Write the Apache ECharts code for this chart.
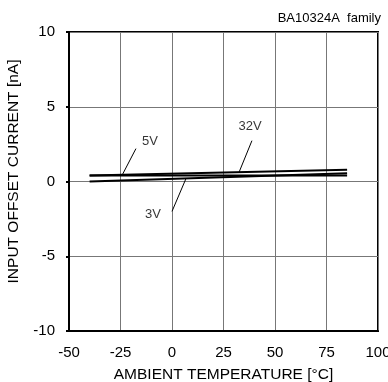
<!DOCTYPE html>
<html>
<head>
<meta charset="utf-8">
<script src="https://cdn.jsdelivr.net/npm/echarts@6/dist/echarts.min.js"></script>
<style>
  body { margin:0; background:#fff; }
  #chart { width:388px; height:382px; }
</style>
</head>
<body>
<div id="chart"></div>
<script>
// temperature points (°C)
let temps = [-40, 85]
// input offset current (nA) per supply voltage
let cur3V = [0, 0.55]
let cur5V = [0.4, 0.4]
let cur32V = [0.4, 0.78]

// annotation labels and pointer lines, data units
let noteText = ['5V', '32V', '3V']
let notePos = [[-10.7, 2.67], [37.9, 3.67], [-9.2, -2.2]]
let notePointers = [
  [[-17.5, 2.2], [-24.3, 0.4]],
  [[38.8, 2.73], [32.5, 0.6]],
  [[0, -2.0], [6.8, 0.2]]
]

function curve(name, vals) {
  return {
    name: name,
    type: 'line',
    data: temps.map((t, i) => [t, vals[i]]),
    symbol: 'none',
    lineStyle: { color: '#000', width: 2 },
    z: 5
  }
}

var chart = echarts.init(document.getElementById('chart'))

let font = 'Liberation Sans, Arial, sans-serif'

let series = [
  curve('3V', cur3V),
  curve('5V', cur5V),
  curve('32V', cur32V)
]

notePointers.forEach((p) => {
  series.push({
    type: 'line',
    data: p,
    symbol: 'none',
    lineStyle: { color: '#000', width: 1 },
    silent: true,
    z: 6
  })
})

series.push({
  type: 'scatter',
  data: notePos.map((p, i) => ({ value: p, name: noteText[i] })),
  symbolSize: 0,
  label: {
    show: true,
    position: 'inside',
    formatter: (p) => p.name,
    color: '#000',
    fontFamily: font,
    fontSize: 13
  },
  silent: true,
  z: 7
})

let option = {
  animation: false,
  title: {
    text: 'BA10324A  family',
    right: 2,
    top: 7,
    textStyle: { fontFamily: font, fontSize: 13, fontWeight: 'normal', color: '#000' }
  },
  grid: {
    left: 69,
    right: 10,
    top: 32,
    bottom: 51,
    outerBoundsMode: 'none',
    show: true,
    borderColor: '#000',
    borderWidth: 2
  },
  xAxis: {
    type: 'value',
    min: -50,
    max: 100,
    interval: 25,
    name: 'AMBIENT TEMPERATURE [°C]',
    nameLocation: 'middle',
    nameGap: 36,
    nameTextStyle: { fontFamily: font, fontSize: 15.5, color: '#000' },
    axisLine: { show: true, onZero: false, lineStyle: { color: '#000', width: 2 } },
    axisTick: { show: false },
    axisLabel: { fontFamily: font, fontSize: 15, color: '#000', margin: 14 },
    splitLine: { show: true, lineStyle: { color: '#777', width: 1 } }
  },
  yAxis: {
    type: 'value',
    min: -10,
    max: 10,
    interval: 5,
    name: 'INPUT OFFSET CURRENT [nA]',
    nameLocation: 'middle',
    nameGap: 47,
    nameTextStyle: { fontFamily: font, fontSize: 15.5, color: '#000', padding: [0, 0, 0, 20] },
    axisLine: { show: true, onZero: false, lineStyle: { color: '#000', width: 2 } },
    axisTick: { show: true, length: 3, lineStyle: { color: '#000', width: 2 } },
    axisLabel: { fontFamily: font, fontSize: 15, color: '#000', margin: 14 },
    splitLine: { show: true, lineStyle: { color: '#777', width: 1 } }
  },
  series: series
}
chart.setOption(option)
</script>
</body>
</html>
